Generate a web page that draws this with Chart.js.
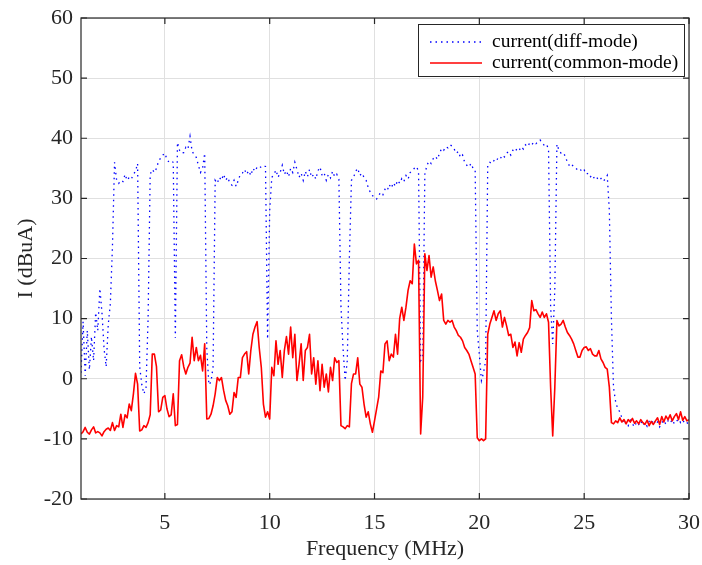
<!DOCTYPE html>
<html>
<head>
<meta charset="utf-8">
<script src="https://cdn.jsdelivr.net/npm/chart.js@4.4.1/dist/chart.umd.min.js"></script>
<style>
  html, body { margin: 0; padding: 0; background: #fff; }
  #wrap { width: 702px; height: 565px; }
</style>
</head>
<body>
<div id="wrap"><canvas id="chart" width="702" height="565"></canvas></div>
<script>
// sweep: 1.0 .. 30.0 MHz, one sample every 0.1 MHz
const FREQ_START = 1.0;
const FREQ_STEP = 0.1;

// differential-mode current, dBuA
const DIFF_MODE = [
  1, 9.5, 0.5, 8, 1.5, 7, 3, 11, 8, 15,
  11, 5, 2, 9, 12.5, 22, 36, 33, 32.5, 33,
  32.8, 34, 33, 33.5, 33.2, 34, 34.5, 35.8, 2, -1,
  -2.5, -1.5, 10, 34, 34.8, 34.3, 35, 36.2, 36.7, 37.2,
  37.5, 36.5, 36, 36.2, 36, 6.8, 39.3, 38, 37.5, 37.6,
  38.5, 38.2, 40.3, 37.8, 37.3, 36.8, 35.5, 34.3, 35, 37.5,
  5, -1, -0.5, 2, 33, 32.5, 33.5, 33, 34, 33,
  33.5, 32.5, 32.2, 33, 32, 33, 34, 34.2, 34.8, 34,
  34.6, 33.8, 35, 34.5, 35.2, 35, 35.3, 35.5, 35.3, 6.6,
  28, 33.5, 34, 34.7, 33.5, 34.3, 35.5, 34, 34.6, 33.6,
  35, 34.3, 36, 34.8, 33.5, 34.2, 33, 34.5, 33.6, 34.8,
  33.5, 34, 33.2, 34.6, 35.2, 33.8, 34.2, 33, 34, 33.4,
  34.5, 33.6, 34, 33.2, 12, 5, -0.3, 3, 20, 33,
  33.5, 34.5, 35, 33.8, 34.2, 33.5, 33, 31.8, 31, 30.5,
  30, 29.9, 30.5, 31, 30.6, 31.5, 31.2, 32.3, 31.7, 32.6,
  32, 33, 32.5, 33.3, 32.8, 33.8, 33.2, 34.3, 34.6, 35,
  35.3, 34.5, 3, 3.5, 34, 35.5, 36.2, 35.8, 36.6, 37,
  36.5, 37.5, 38.3, 38, 38.6, 38.4, 38.9, 38.7, 38.2, 37.5,
  37.8, 36.8, 37.2, 36, 35.5, 35.2, 35.8, 35, 34.8, 8,
  4, -0.3, 1, 3, 35.5, 36, 35.8, 36.3, 36.1, 36.8,
  36.6, 37.2, 36.9, 37.5, 37.8, 37.2, 38, 37.7, 38.3, 38,
  38.6, 38.2, 38.9, 38.6, 39.2, 38.9, 39.4, 39.1, 39.4, 39.7,
  39.2, 38.8, 39, 38.2, 12, 5.8, 15, 39, 38, 37.5,
  37.6, 37, 36, 35.4, 35.7, 35.2, 35, 34.7, 34.9, 34.4,
  34.7, 34, 34.2, 33.6, 33.9, 33.2, 33.5, 33, 33.3, 32.8,
  33.2, 33.8, 28, 10, -1.5, -3.8, -5, -5.5, -6.5, -7.6,
  -7.2, -7.8, -6.9, -7.5, -8, -7.2, -7.6, -7, -7.8, -7.3,
  -7.9, -7.1, -7.5, -6.8, -7.6, -7.2, -8, -7.3, -6.9, -7.6,
  -7, -7.4, -6.8, -7.5, -7.1, -6.7, -7.3, -6.9, -7.4, -7.2,
  -8
];

// common-mode current, dBuA
const COMMON_MODE = [
  -9.2, -8.8, -8.1, -8.9, -9.2, -8.5, -8.0, -9.0, -8.8, -9.0,
  -9.5, -8.8, -8.4, -8.2, -8.6, -7.3, -8.6, -7.8, -8.0, -5.9,
  -8.1, -6.0, -6.5, -4.2, -5.3, -2.5, 0.9, -0.9, -8.7, -8.5,
  -7.8, -8.1, -7.3, -6.0, 4.1, 4.1, 2.0, -5.5, -5.2, -3.1,
  -2.8, -5.0, -6.3, -6.0, -2.5, -7.8, -7.6, 3.0, 4.0, 2.0,
  0.8, 1.9, 2.6, 6.9, 3.0, 5.2, 3.0, 3.9, 1.3, 5.8,
  -6.7, -6.6, -5.9, -4.5, -2.5, 0.2, -0.3, 0.2, -1.9, -3.6,
  -4.5, -5.9, -5.5, -2.3, -3.1, 0.2, 0.2, 3.5, 4.1, 4.5,
  0.8, 4.7, 7.4, 8.6, 9.5, 5.2, 1.9, -4.2, -6.4, -5.5,
  -6.7, 1.9, 0.5, 6.3, 2.4, 4.7, 0.2, 4.7, 7.0, 4.1,
  8.6, 3.5, 7.4, -0.3, 2.4, 5.8, -0.3, 4.7, 5.2, 7.4,
  0.8, 3.5, -0.9, 3.0, -2.0, 2.4, -1.4, 0.8, -2.2, 1.9,
  -0.3, 3.5, 2.7, 3.0, -7.8, -8.0, -8.3, -7.8, -8.0, -0.8,
  0.8, 0.8, 3.5, -0.9, -1.4, -4.2, -6.4, -5.5, -7.5, -8.9,
  -7.0, -5.0, -3.0, 1.3, 1.0, 5.8, 6.3, 3.0, 4.1, 3.6,
  7.4, 4.1, 10.0, 11.9, 9.7, 11.9, 14.7, 16.3, 15.8, 22.4,
  19.1, 19.7, -9.2, -3.0, 20.8, 18.0, 20.5, 16.9, 18.6, 16.3,
  14.7, 13.0, 14.1, 9.7, 9.1, 9.7, 9.4, 9.7, 8.6, 8.0,
  7.2, 6.9, 6.3, 5.2, 4.7, 4.1, 3.0, 1.9, 0.8, -9.8,
  -10.3, -10.0, -10.3, -10.0, 7.4, 9.1, 10.2, 11.3, 9.7, 10.8,
  11.3, 8.6, 10.2, 8.8, 7.2, 7.4, 5.2, 6.1, 3.8, 6.0,
  4.4, 6.6, 7.2, 7.7, 8.5, 13.0, 11.3, 11.5, 10.8, 10.2,
  11.1, 10.2, 10.8, 9.4, -1.4, -9.5, -1.4, 9.7, 8.8, 9.1,
  9.7, 8.6, 7.7, 7.2, 6.6, 5.8, 4.7, 3.6, 3.6, 4.7,
  5.2, 5.3, 4.7, 5.0, 4.1, 3.8, 3.8, 4.7, 3.3, 2.7,
  1.9, 1.6, -1.4, -7.3, -7.5, -7.0, -7.3, -6.5, -7.2, -6.8,
  -7.5, -6.8, -7.2, -6.6, -7.4, -7.0, -7.5, -6.8, -7.3, -7.6,
  -6.9, -7.8, -7.1, -7.6, -7.0, -6.5, -7.6, -6.3, -7.2, -6.2,
  -6.8, -6.0, -7.0, -6.3, -5.8, -6.8, -5.5, -6.9, -6.3, -7.0,
  -6.8
];

const X_TICKS = [5, 10, 15, 20, 25, 30];
const Y_TICKS = [-20, -10, 0, 10, 20, 30, 40, 50, 60];
const SERIES_LABELS = ['current(diff-mode)', 'current(common-mode)'];

const AXIS_COLOR = '#262626';
const GRID_COLOR = '#e0e0e0';
const FONT = "'Liberation Serif', 'Times New Roman', serif";

const freqs = DIFF_MODE.map((_, i) => Math.round((FREQ_START + i * FREQ_STEP) * 10) / 10);
const toPoints = (vals) => vals.map((v, i) => ({ x: freqs[i], y: v }));

// box round the plot with inward tick marks on all four sides
const axesBox = {
  id: 'axesBox',
  afterDatasetsDraw(chart) {
    const { ctx, chartArea: a, scales: { x, y } } = chart;
    const tick = 6;
    ctx.save();
    ctx.strokeStyle = AXIS_COLOR;
    ctx.lineWidth = 1.2;
    ctx.strokeRect(a.left, a.top, a.right - a.left, a.bottom - a.top);
    ctx.beginPath();
    X_TICKS.forEach((v) => {
      const px = x.getPixelForValue(v);
      ctx.moveTo(px, a.bottom); ctx.lineTo(px, a.bottom - tick);
      ctx.moveTo(px, a.top); ctx.lineTo(px, a.top + tick);
    });
    Y_TICKS.forEach((v) => {
      const py = y.getPixelForValue(v);
      ctx.moveTo(a.left, py); ctx.lineTo(a.left + tick, py);
      ctx.moveTo(a.right, py); ctx.lineTo(a.right - tick, py);
    });
    ctx.stroke();
    ctx.restore();
  },
};

// framed legend in the upper right corner
const boxedLegend = {
  id: 'boxedLegend',
  afterDraw(chart) {
    const { ctx } = chart;
    const bx = 418.5, by = 24.5, bw = 266, bh = 52;
    ctx.save();
    ctx.fillStyle = '#fff';
    ctx.fillRect(bx, by, bw, bh);
    ctx.strokeStyle = AXIS_COLOR;
    ctx.lineWidth = 1;
    ctx.strokeRect(bx, by, bw, bh);
    chart.data.datasets.forEach((ds, i) => {
      const ly = 42 + i * 21;
      ctx.beginPath();
      ctx.setLineDash(ds.borderDash || []);
      ctx.strokeStyle = ds.borderColor;
      ctx.lineWidth = ds.borderWidth;
      ctx.moveTo(430, ly);
      ctx.lineTo(482, ly);
      ctx.stroke();
      ctx.setLineDash([]);
      ctx.fillStyle = '#000';
      ctx.font = `19.5px ${FONT}`;
      ctx.textBaseline = 'middle';
      ctx.fillText(ds.label, 492, ly);
    });
    ctx.restore();
  },
};

new Chart(document.getElementById('chart'), {
  type: 'line',
  data: {
    datasets: [
      {
        label: SERIES_LABELS[0],
        data: toPoints(DIFF_MODE),
        borderColor: '#0000ff',
        borderWidth: 1.3,
        borderDash: [1.5, 4],
        pointRadius: 0,
        tension: 0,
        order: 1,
      },
      {
        label: SERIES_LABELS[1],
        data: toPoints(COMMON_MODE),
        borderColor: '#ff0000',
        borderWidth: 1.6,
        borderJoinStyle: 'round',
        pointRadius: 0,
        tension: 0,
        order: 0,
      },
    ],
  },
  options: {
    responsive: false,
    animation: false,
    devicePixelRatio: 1,
    layout: { padding: { left: 0, right: 13, top: 18, bottom: 0 } },
    plugins: {
      legend: { display: false },
      tooltip: { enabled: false },
    },
    scales: {
      x: {
        type: 'linear',
        min: 1,
        max: 30,
        afterBuildTicks: (s) => { s.ticks = X_TICKS.map((v) => ({ value: v })); },
        afterFit: (s) => {
          s.height = 66;
          s.paddingLeft = 0;
          s.paddingRight = 0;
        },
        grid: { color: GRID_COLOR, lineWidth: 1, drawTicks: false },
        border: { display: false },
        ticks: {
          color: AXIS_COLOR,
          font: { family: FONT, size: 22 },
          padding: 11,
          maxRotation: 0,
          autoSkip: false,
        },
        title: {
          display: true,
          text: 'Frequency (MHz)',
          color: AXIS_COLOR,
          font: { family: FONT, size: 22 },
          padding: { top: 0, bottom: 3 },
        },
      },
      y: {
        type: 'linear',
        min: -20,
        max: 60,
        afterBuildTicks: (s) => { s.ticks = Y_TICKS.map((v) => ({ value: v })); },
        afterFit: (s) => {
          s.width = 81;
          s.paddingTop = 0;
          s.paddingBottom = 0;
        },
        grid: { color: GRID_COLOR, lineWidth: 1, drawTicks: false },
        border: { display: false },
        ticks: {
          color: AXIS_COLOR,
          font: { family: FONT, size: 22 },
          padding: 8,
        },
        title: {
          display: true,
          text: 'I (dBuA)',
          color: AXIS_COLOR,
          font: { family: FONT, size: 22 },
          padding: { top: 13, bottom: 0 },
        },
      },
    },
  },
  plugins: [axesBox, boxedLegend],
});
</script>
</body>
</html>
